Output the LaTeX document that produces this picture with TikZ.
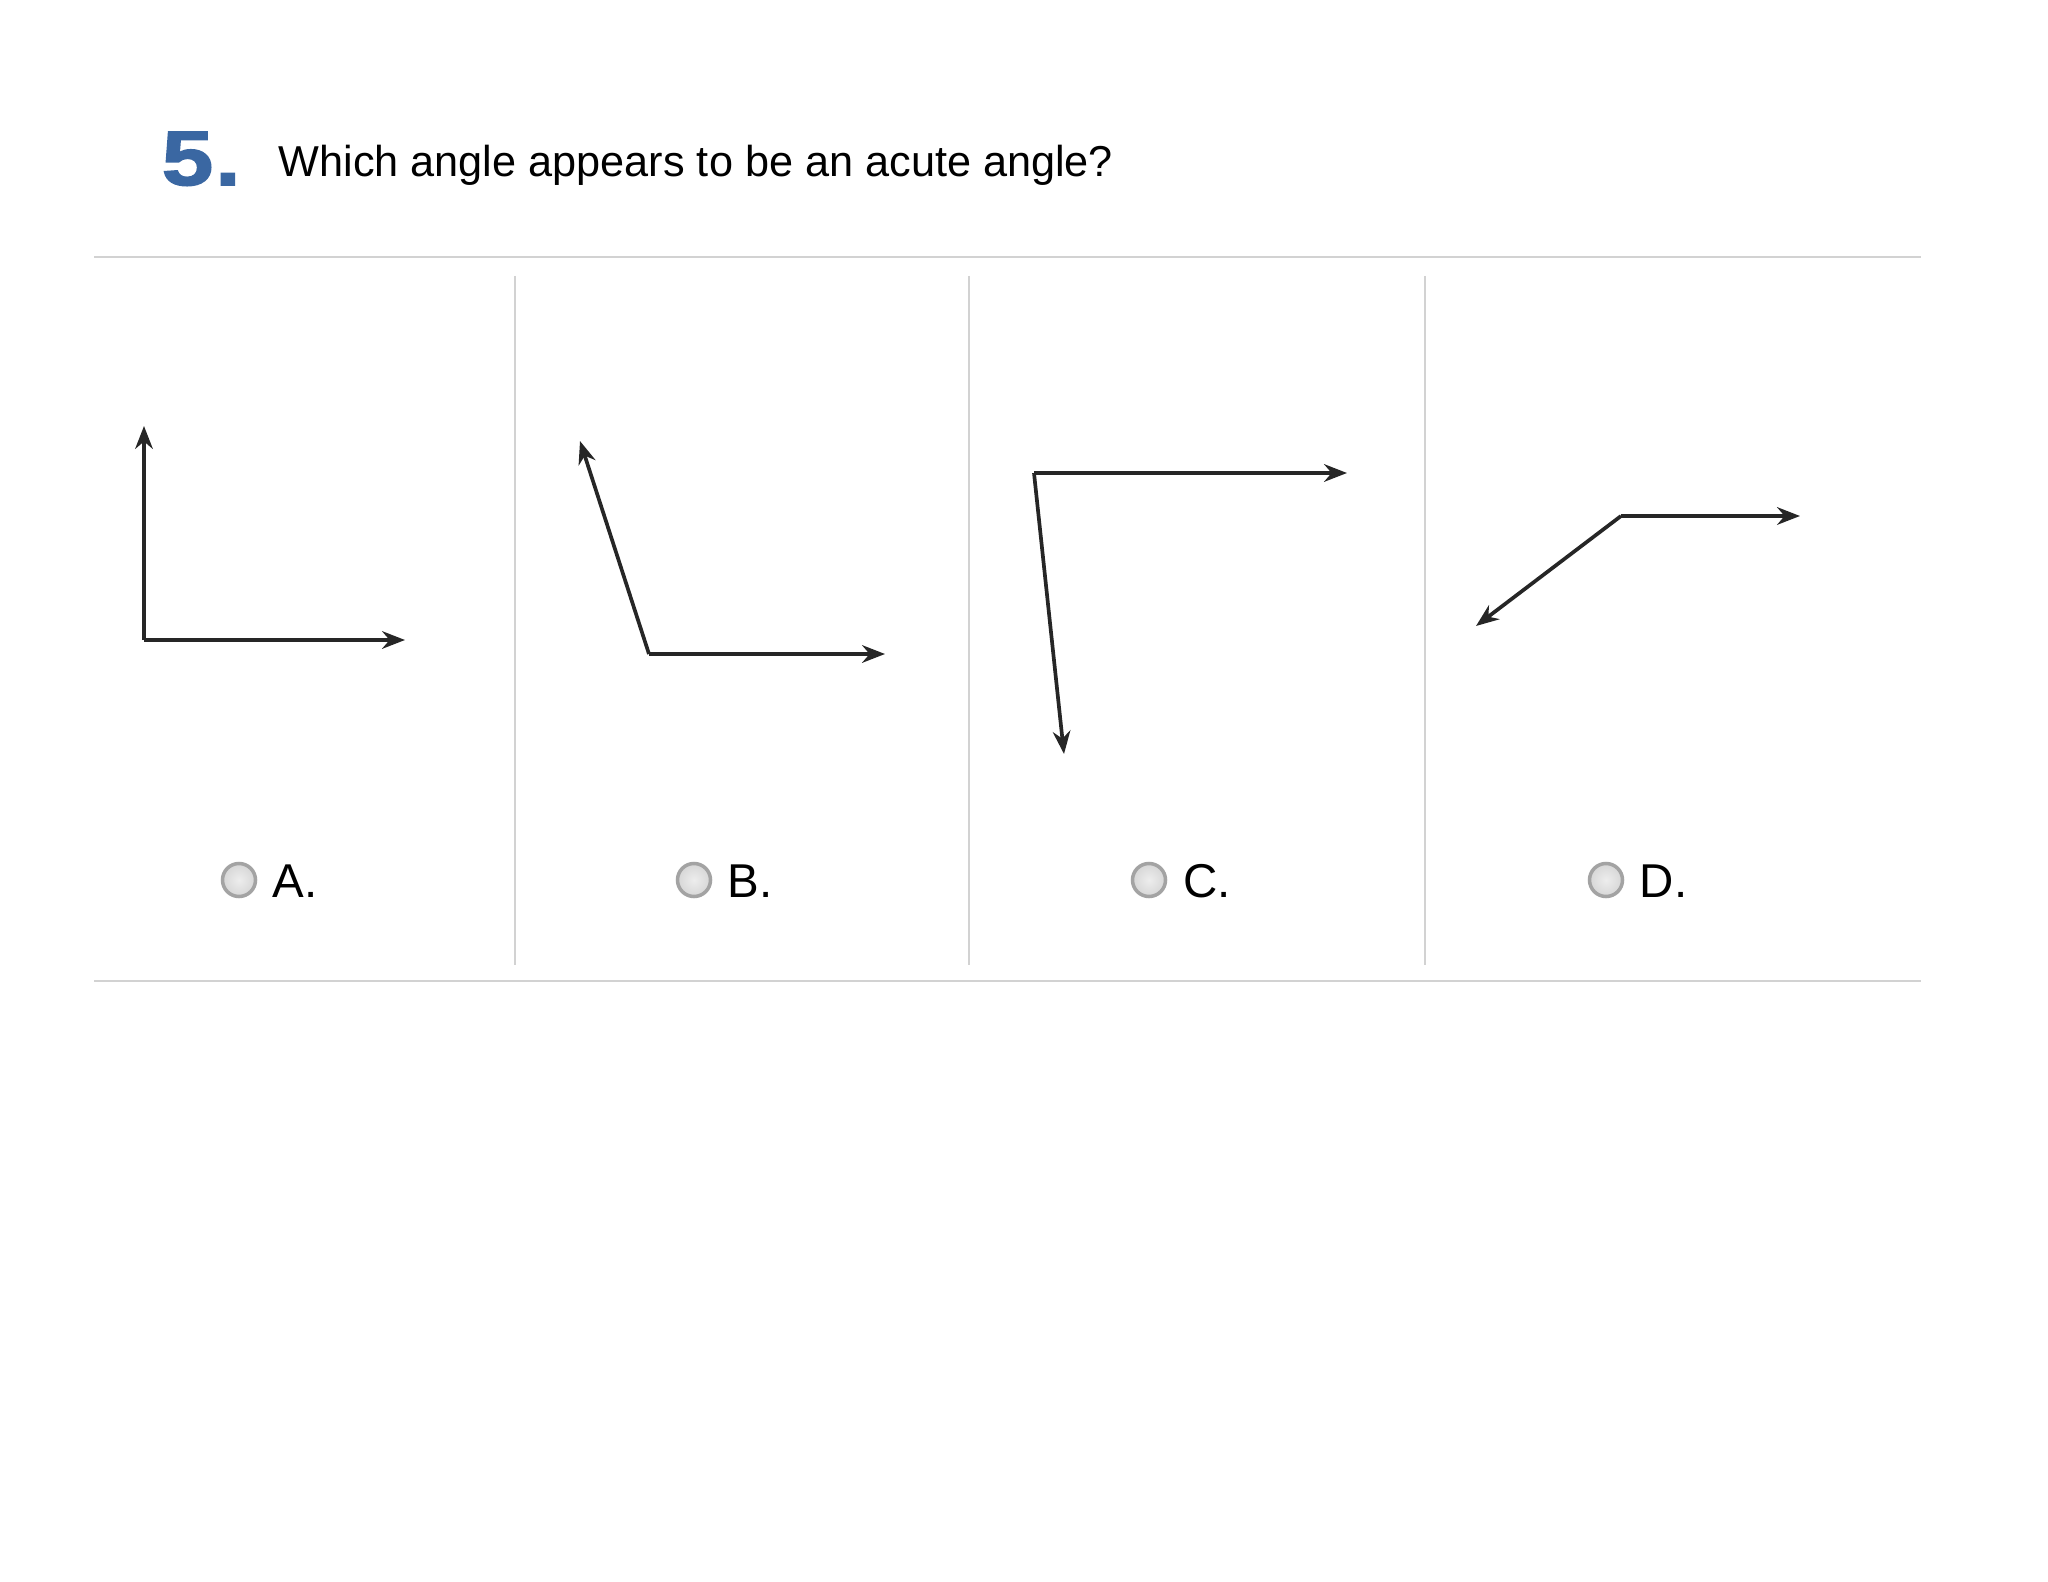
\documentclass[tikz,border=0pt]{standalone}
\usepackage{fontspec}
\setmainfont{Liberation Sans}
\newfontfamily\numfont[FakeStretch=1.2,FakeBold=2]{Liberation Sans Bold}
\usetikzlibrary{arrows.meta}
\definecolor{numblue}{HTML}{3A67A2}
\definecolor{rulegray}{HTML}{D2D2D2}
\tikzset{
  ray/.style={-{Stealth[length=6.5pt,width=5pt]}, line width=1.05pt, draw=black!85},
  radio/.style={circle, draw=black!36, inner color=black!7, outer color=black!16,
    line width=1pt, minimum size=0.33cm, inner sep=0pt},
  choice/.style={anchor=base west, inner sep=0pt, font=\fontsize{13.5}{16}\selectfont},
  rule/.style={draw=rulegray, line width=0.7pt},
}
\begin{document}
\begin{tikzpicture}[x=0.01cm, y=-0.01cm]
  \useasboundingbox (0,0) rectangle (2048,1582);
  % question
  \node[anchor=base west, inner sep=0pt, text=numblue,
    font=\numfont\fontsize{22}{26}\selectfont] (num) at (161,185) {5\kern0.5pt.};
  \node[anchor=base west, inner sep=0pt, font=\fontsize{12.3}{15}\selectfont]
    (question) at (278,176) {Which angle appears to be an acute angle?};
  % frame
  \coordinate (tl) at (94,257);
  \coordinate (tr) at (1921,257);
  \coordinate (bl) at (94,981);
  \coordinate (br) at (1921,981);
  \draw[rule] (tl) -- (tr);
  \draw[rule] (bl) -- (br);
  \foreach \x [count=\i] in {515,969,1425} {
    \coordinate (sep\i a) at (\x,276);
    \coordinate (sep\i b) at (\x,965);
    \draw[rule] (sep\i a) -- (sep\i b);
  }
  % angles
  \draw
    (144,640) coordinate (va)
    (144,426) coordinate (a1)
    (405,640) coordinate (a2)
    (649,654) coordinate (vb)
    (580,441) coordinate (b1)
    (885,654) coordinate (b2)
    (1034,473) coordinate (vc)
    (1347,473) coordinate (c1)
    (1064,754) coordinate (c2)
    (1621,516) coordinate (vd)
    (1800,516) coordinate (d1)
    (1476,626) coordinate (d2);
  \begin{scope}[ray]
    \draw (va) to (a1);
    \draw (va) to (a2);
    \draw (vb) to (b1);
    \draw (vb) to (b2);
    \draw (vc) to (c1);
    \draw (vc) to (c2);
    \draw (vd) to (d1);
    \draw (vd) to (d2);
  \end{scope}
  % choices
  \node[radio] (ra) at (239,880) {};
  \node[radio] (rb) at (694,880) {};
  \node[radio] (rc) at (1149,880) {};
  \node[radio] (rd) at (1606,880) {};
  \node[choice] (la) at (272,897) {A.};
  \node[choice] (lb) at (727,897) {B.};
  \node[choice] (lc) at (1183,897) {C.};
  \node[choice] (ld) at (1639,897) {D.};
\end{tikzpicture}
\end{document}
